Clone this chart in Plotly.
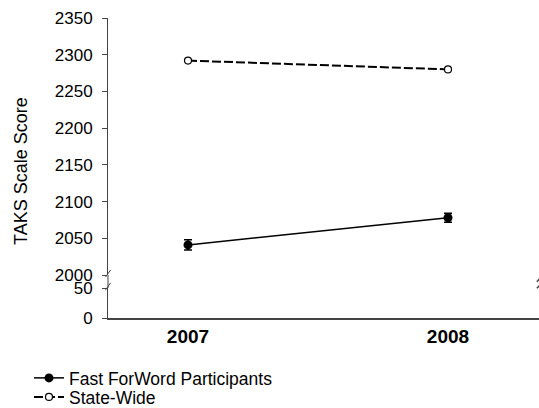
import plotly.graph_objects as go

years = ["2007", "2008"]
fast_forword = [2041, 2078]
fast_forword_err = [7, 6]
state_wide = [2292, 2280]
upper_ticks = [2000, 2050, 2100, 2150, 2200, 2250, 2300, 2350]
lower_ticks = [0, 50]

FONT = "Liberation Sans, Arial, sans-serif"
AX = "#444444"
XRANGE = [-0.3077, 1.35]
H = 408

fig = go.Figure()

fig.add_trace(go.Scatter(
    x=years, y=fast_forword, name="Fast ForWord Participants",
    mode="lines+markers", xaxis="x", yaxis="y", legend="legend",
    line=dict(color="black", width=1.5),
    marker=dict(symbol="circle", size=9, color="black"),
    error_y=dict(type="data", array=fast_forword_err, visible=True,
                 color="black", thickness=1.5, width=4),
))

fig.add_trace(go.Scatter(
    x=years, y=state_wide, name="State-Wide",
    mode="lines+markers", xaxis="x", yaxis="y", legend="legend2",
    line=dict(color="black", width=2, dash="9px,3px"),
    marker=dict(symbol="circle", size=7, color="white",
                line=dict(color="black", width=1.2)),
))

# empty trace so the lower (broken) axis segment is drawn
fig.add_trace(go.Scatter(
    x=years, y=[None, None], xaxis="x2", yaxis="y2",
    mode="markers", showlegend=False, hoverinfo="skip",
))

leg_common = dict(x=29 / 539, xref="container", xanchor="left",
                  yref="container", yanchor="middle",
                  font=dict(size=17.5, family=FONT), bgcolor="rgba(0,0,0,0)",
                  itemwidth=30)

fig.update_layout(
    width=539, height=H,
    margin=dict(l=108, r=0, t=18, b=90, autoexpand=False),
    paper_bgcolor="white", plot_bgcolor="white",
    font=dict(family=FONT, size=18, color="black"),
    showlegend=True,
    legend=dict(y=1 - 378 / H, **leg_common),
    legend2=dict(y=1 - 397 / H, **leg_common),
    xaxis=dict(type="category", domain=[0, 1], anchor="y", range=XRANGE,
               showgrid=False, showline=False, zeroline=False,
               showticklabels=False, ticks=""),
    yaxis=dict(domain=[0.1433, 1.0], anchor="x", range=[2000, 2350],
               tickvals=upper_ticks, showgrid=False, zeroline=False,
               showline=True, linecolor=AX, linewidth=1, ticks="outside",
               ticklen=5, tickcolor=AX, ticklabelstandoff=6,
               tickfont=dict(size=17, family=FONT)),
    xaxis2=dict(type="category", domain=[0, 1], anchor="y2", range=XRANGE,
                categoryorder="array", categoryarray=years,
                showgrid=False, showline=True, linecolor=AX, linewidth=1.5,
                zeroline=False, ticks="",
                tickfont=dict(size=19, family=FONT, color="black"),
                tickvals=years, ticktext=["<b>" + y + "</b>" for y in years]),
    yaxis2=dict(domain=[0.0, 0.1], anchor="x2", range=[0, 50],
                tickvals=lower_ticks, showgrid=False, zeroline=False,
                showline=True, linecolor=AX, linewidth=1, ticks="outside",
                ticklen=5, tickcolor=AX, ticklabelstandoff=6,
                tickfont=dict(size=17, family=FONT)),
)

# axis line across the break gap
fig.add_shape(type="line", xref="paper", yref="paper", x0=0, x1=0,
              y0=0.1, y1=0.1433, line=dict(color=AX, width=1))
# break marks on left axis
for yc in [0.148, 0.105]:
    fig.add_shape(type="line", xref="paper", yref="paper",
                  x0=-0.006, x1=0.006, y0=yc - 0.012, y1=yc + 0.012,
                  line=dict(color=AX, width=1))
# partial break marks at the right edge
for yc in [0.127, 0.105]:
    fig.add_shape(type="line", xref="paper", yref="paper",
                  x0=0.995, x1=1.003, y0=yc - 0.006, y1=yc + 0.006,
                  line=dict(color=AX, width=1.5))

fig.add_annotation(text="TAKS Scale Score", xref="paper", yref="paper",
                   x=0, y=0.49, xshift=-87, xanchor="center", yanchor="middle",
                   textangle=-90, showarrow=False,
                   font=dict(size=18, family=FONT, color="black"))

fig.write_html("out.html",
               config={"displayModeBar": False},
               post_script="document.body.style.margin='0';")
